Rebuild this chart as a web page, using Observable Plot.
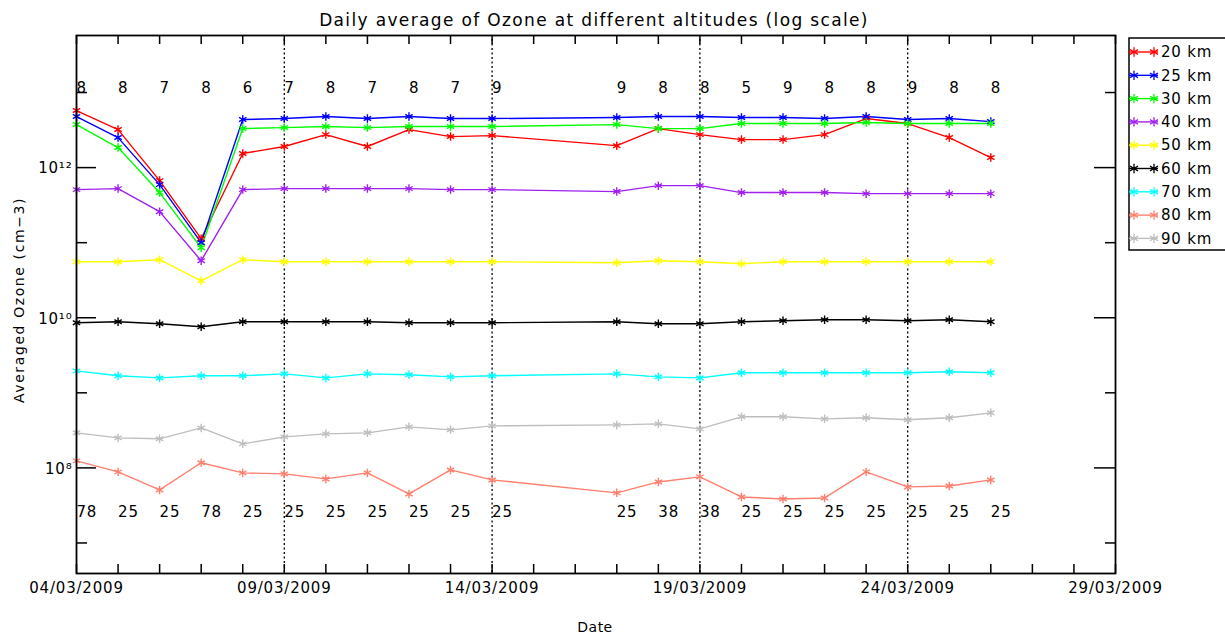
<!DOCTYPE html>
<html><head><meta charset="utf-8">
<script src="https://cdn.jsdelivr.net/npm/d3@7"></script>
<script src="https://cdn.jsdelivr.net/npm/@observablehq/plot@0.6"></script>
<style>
html,body{margin:0;padding:0;background:#fff;}
#wrap{position:relative;width:1225px;height:634px;overflow:hidden;font-family:"DejaVu Sans",sans-serif;background:#fff;}
#wrap svg text{letter-spacing:0.8px;}
.t{position:absolute;white-space:nowrap;color:#000;}
</style></head><body>
<div id="wrap"></div>
<script>
// ---- data ----
const days = [4,5,6,7,8,9,10,11,12,13,14,17,18,19,20,21,22,23,24,25,26];
const seriesNames = ["20 km","25 km","30 km","40 km","50 km","60 km","70 km","80 km","90 km"];
const seriesColors = ["#ff0000","#0000ff","#00ff00","#a020f0","#ffff00","#000000","#00ffff","#ff7f6f","#bebebe"];
const km20 = [5.75e12,3.21e12,6.71e11,1.13e11,1.54e12,1.91e12,2.75e12,1.91e12,3.21e12,2.59e12,2.67e12,1.96e12,3.31e12,2.75e12,2.36e12,2.36e12,2.75e12,4.50e12,3.86e12,2.51e12,1.36e12];
const km25 = [4.79e12,2.51e12,5.93e11,1.0e11,4.37e12,4.50e12,4.79e12,4.50e12,4.79e12,4.50e12,4.50e12,4.65e12,4.79e12,4.79e12,4.65e12,4.65e12,4.50e12,4.79e12,4.37e12,4.50e12,4.10e12];
const km30 = [3.74e12,1.85e12,4.65e11,8.57e10,3.31e12,3.41e12,3.52e12,3.41e12,3.52e12,3.52e12,3.52e12,3.74e12,3.31e12,3.31e12,3.86e12,3.86e12,3.86e12,3.98e12,3.86e12,3.86e12,3.86e12];
const km40 = [5.09e11,5.25e11,2.59e11,5.75e10,5.09e11,5.25e11,5.25e11,5.25e11,5.25e11,5.09e11,5.09e11,4.79e11,5.75e11,5.75e11,4.65e11,4.65e11,4.65e11,4.50e11,4.50e11,4.50e11,4.50e11];
const km50 = [5.58e10,5.58e10,5.93e10,3.11e10,5.93e10,5.58e10,5.58e10,5.58e10,5.58e10,5.58e10,5.58e10,5.41e10,5.75e10,5.58e10,5.25e10,5.58e10,5.58e10,5.58e10,5.58e10,5.58e10,5.58e10];
const km60 = [8.58e9,8.85e9,8.32e9,7.59e9,8.85e9,8.85e9,8.85e9,8.85e9,8.58e9,8.58e9,8.58e9,8.85e9,8.32e9,8.32e9,8.85e9,9.12e9,9.40e9,9.40e9,9.12e9,9.40e9,8.85e9];
const km70 = [1.96e9,1.69e9,1.58e9,1.69e9,1.69e9,1.79e9,1.58e9,1.79e9,1.74e9,1.63e9,1.69e9,1.79e9,1.63e9,1.58e9,1.85e9,1.85e9,1.85e9,1.85e9,1.85e9,1.91e9,1.85e9];
const km80 = [1.24e8,8.85e7,5.09e7,1.17e8,8.58e7,8.32e7,7.13e7,8.58e7,4.50e7,9.40e7,6.92e7,4.65e7,6.50e7,7.59e7,4.10e7,3.86e7,3.98e7,8.85e7,5.58e7,5.75e7,6.92e7];
const km90 = [2.93e8,2.51e8,2.44e8,3.41e8,2.09e8,2.59e8,2.84e8,2.93e8,3.52e8,3.21e8,3.63e8,3.74e8,3.86e8,3.31e8,4.79e8,4.79e8,4.50e8,4.65e8,4.37e8,4.65e8,5.41e8];
const topCounts = [8,8,7,8,6,7,8,7,8,7,9,9,8,8,5,9,8,8,9,8,8];
const bottomCounts = [78,25,25,78,25,25,25,25,25,25,25,25,38,38,25,25,25,25,25,25,25];
const dashedDays = [9,14,19,24];
const labelDays = [4,9,14,19,24,29];
const xStartDay = 4, xEndDay = 29;
const yMajor = [1e8,1e10,1e12];
const yMinor = [1e7,1e9,1e11,1e13];
const yDomain = [3.92e6, 5.75e13];
const titleText = "Daily average of Ozone at different altitudes (log scale)";
const yLabelText = "Averaged Ozone (cm\u22123)";
const xLabelText = "Date";

// ---- build ----
const date = d => new Date(Date.UTC(2009, 2, d));
const allValues = [km20,km25,km30,km40,km50,km60,km70,km80,km90];
const rows = [];
allValues.forEach((vals, i) => vals.forEach((v, j) => rows.push({date: date(days[j]), value: v, series: seriesNames[i]})));
const countRows = days.map((d, j) => ({date: date(d), top: String(topCounts[j]), bottom: String(bottomCounts[j])}));
const tickDays = d3.range(xStartDay, xEndDay + 1).map(date);
const sup = {"0":"\u2070","1":"\u00b9","2":"\u00b2","3":"\u00b3","4":"\u2074","5":"\u2075","6":"\u2076","7":"\u2077","8":"\u2078","9":"\u2079"};
const powLabel = v => "10" + String(Math.round(Math.log10(v))).split("").map(c => sup[c]).join("");
const fmt = d3.utcFormat("%d/%m/%Y");

const W = 1225, H = 634, mL = 76, mR = 110, mT = 35, mB = 61;
const fw = W - mL - mR, fh = H - mT - mB;

const chart = Plot.plot({
  width: W, height: H,
  marginLeft: mL, marginRight: mR, marginTop: mT, marginBottom: mB,
  style: {fontFamily: "DejaVu Sans, sans-serif", background: "white", overflow: "visible"},
  x: {type: "utc", domain: [date(xStartDay), date(xEndDay)], axis: null},
  y: {type: "log", domain: yDomain, axis: null},
  color: {domain: seriesNames, range: seriesColors},
  marks: [
    Plot.ruleX(dashedDays.map(date), {x: d => d, stroke: "black", strokeDasharray: "2,2.5", strokeWidth: 1.3, insetTop: 4}),
    Plot.line(rows, {x: "date", y: "value", z: "series", stroke: "series", strokeWidth: 1.4}),
    Plot.dot(rows, {x: "date", y: "value", stroke: "series", symbol: "asterisk", r: 4, strokeWidth: 1.4}),
    Plot.text(countRows, {x: "date", text: "top", frameAnchor: "top", dy: 47, textAnchor: "start", fontSize: 15, fill: "black"}),
    Plot.text(countRows, {x: "date", text: "bottom", frameAnchor: "bottom", dy: -57, textAnchor: "start", fontSize: 15, fill: "black"}),
    Plot.tickX(tickDays, {x: d => d, insetTop: fh - 9, stroke: "black", strokeWidth: 1.5}),
    Plot.tickX(tickDays, {x: d => d, insetBottom: fh - 9, stroke: "black", strokeWidth: 1.5}),
    Plot.tickY(yMajor, {y: d => d, insetRight: fw - 20, stroke: "black", strokeWidth: 1.5}),
    Plot.tickY(yMinor, {y: d => d, insetRight: fw - 11, stroke: "black", strokeWidth: 1.5}),
    Plot.tickY(yMajor, {y: d => d, insetLeft: fw - 21, stroke: "black", strokeWidth: 1.5}),
    Plot.tickY(yMinor, {y: d => d, insetLeft: fw - 10, stroke: "black", strokeWidth: 1.5}),
    Plot.text(yMajor, {y: d => d, text: powLabel, frameAnchor: "left", textAnchor: "end", dx: -4, dy: 1, fontSize: 15, fill: "black"}),
    Plot.text(labelDays.map(date), {x: d => d, text: fmt, frameAnchor: "bottom", dy: 19, fontSize: 15, fill: "black"}),
    Plot.frame({stroke: "black", strokeWidth: 1.8})
  ]
});
const wrap = document.getElementById("wrap");
chart.style.position = "absolute"; chart.style.left = "0px"; chart.style.top = "0px";
wrap.appendChild(chart);

// title & axis labels
function addText(txt, css) {
  const d = document.createElement("div");
  d.className = "t"; d.textContent = txt;
  Object.assign(d.style, css);
  wrap.appendChild(d);
}
addText(titleText, {left: "594px", top: "10px", transform: "translateX(-50%)", fontSize: "17px", lineHeight: "20px", letterSpacing: "1.35px"});
addText(yLabelText, {left: "19px", top: "300px", transform: "translate(-50%,-50%) rotate(-90deg)", fontSize: "14px", lineHeight: "16px", letterSpacing: "1.6px"});
addText(xLabelText, {left: "595px", top: "618px", transform: "translateX(-50%)", fontSize: "14px", lineHeight: "18px", letterSpacing: "0.5px"});

// legend
const lg = d3.select(wrap).append("svg")
  .attr("width", W).attr("height", H)
  .style("position", "absolute").style("left", "0px").style("top", "0px")
  .style("font-family", "DejaVu Sans, sans-serif");
lg.append("rect").attr("x", 1129).attr("y", 38).attr("width", 120).attr("height", 212)
  .attr("fill", "white").attr("stroke", "black").attr("stroke-width", 1.5);
const star = d3.symbol(d3.symbolAsterisk, 60)();
seriesNames.forEach((name, i) => {
  const y = 52 + i * 23.3;
  const g = lg.append("g");
  g.append("line").attr("x1", 1129).attr("x2", 1158).attr("y1", y).attr("y2", y)
    .attr("stroke", seriesColors[i]).attr("stroke-width", 1.4);
  [1134, 1154].forEach(x => g.append("path").attr("d", star).attr("transform", `translate(${x},${y})`)
    .attr("fill", "none").attr("stroke", seriesColors[i]).attr("stroke-width", 1.3));
  g.append("text").attr("x", 1161).attr("y", y).attr("dy", "0.35em").attr("font-size", 15)
    .attr("letter-spacing", "0.8px").text(name);
});
</script>
</body></html>
